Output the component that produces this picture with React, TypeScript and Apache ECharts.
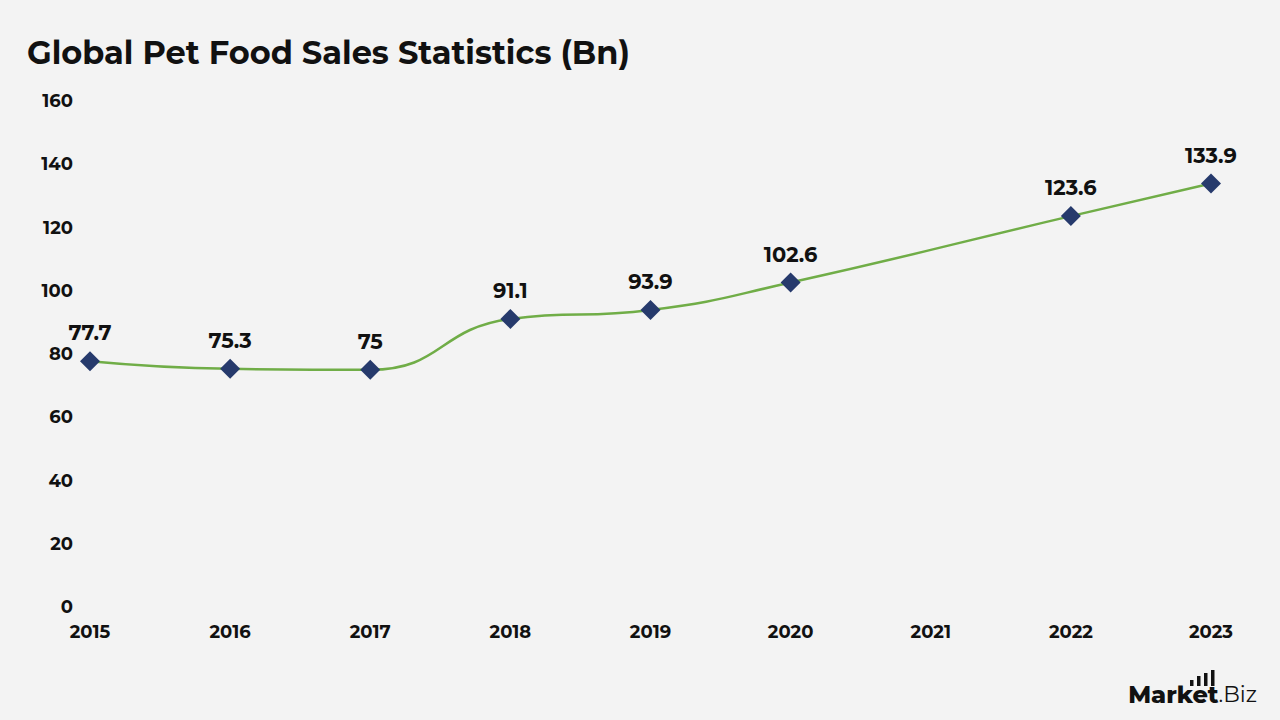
import React, { useEffect, useRef } from "react";
import * as echarts from "echarts";

const title = "Global Pet Food Sales Statistics (Bn)";
const years = ["2015", "2016", "2017", "2018", "2019", "2020", "2021", "2022", "2023"];
const pointYears = ["2015", "2016", "2017", "2018", "2019", "2020", "2022", "2023"];
const sales = [77.7, 75.3, 75, 91.1, 93.9, 102.6, 123.6, 133.9];
const yTicks = { min: 0, max: 160, interval: 20 };

export default function App() {
  const ref = useRef<HTMLDivElement>(null);
  useEffect(() => {
    const chart = echarts.init(ref.current!, null, { renderer: "svg" });
    const font = "Montserrat, 'Open Sans', Inter, sans-serif";
    chart.setOption({
      animation: false,
      backgroundColor: "#f3f3f3",
      title: {
        text: title,
        left: 22,
        top: 31,
        textStyle: { fontFamily: font, fontWeight: "bold", fontSize: 32, color: "#111" },
      },
      grid: { left: 90, right: 69, top: 101, bottom: 113, containLabel: false },
      xAxis: {
        type: "category",
        data: years,
        boundaryGap: false,
        axisLine: { show: false },
        axisTick: { show: false },
        splitLine: { show: false },
        axisLabel: { fontFamily: font, fontWeight: "bold", fontSize: 18, color: "#111", margin: 16 },
      },
      yAxis: {
        type: "value",
        min: yTicks.min,
        max: yTicks.max,
        interval: yTicks.interval,
        axisLine: { show: false },
        axisTick: { show: false },
        splitLine: { show: false },
        axisLabel: { fontFamily: font, fontWeight: "bold", fontSize: 18, color: "#111", margin: 17 },
      },
      series: [
        {
          type: "line",
          data: pointYears.map((y, i) => [y, sales[i]]),
          smooth: 0.5,
          symbol: "diamond",
          symbolSize: 20,
          itemStyle: { color: "#263a6c" },
          lineStyle: { color: "#70ad47", width: 2.5 },
          label: {
            show: true,
            position: "top",
            distance: 8,
            fontFamily: font,
            fontWeight: "bold",
            fontSize: 21,
            color: "#111",
          },
        },
      ],
      graphic: [
        {
          type: "text",
          right: 23,
          top: 682,
          style: {
            text: "{a|Market}{b|.Biz}",
            rich: {
              a: { fontFamily: font, fontWeight: 800, fontSize: 24, fill: "#111" },
              b: { fontFamily: font, fontWeight: "normal", fontSize: 22, fill: "#111" },
            },
          },
        },
        { type: "rect", shape: { x: 1190, y: 680, width: 3.5, height: 6 }, style: { fill: "#111" } },
        { type: "rect", shape: { x: 1197, y: 676, width: 3.5, height: 10 }, style: { fill: "#111" } },
        { type: "rect", shape: { x: 1204, y: 673, width: 3.5, height: 13 }, style: { fill: "#111" } },
        { type: "rect", shape: { x: 1211, y: 670, width: 3.5, height: 16 }, style: { fill: "#111" } },
      ],
    });
    return () => chart.dispose();
  }, []);
  return <div ref={ref} style={{ width: 1280, height: 720, position: "absolute", left: 0, top: 0 }} />;
}
